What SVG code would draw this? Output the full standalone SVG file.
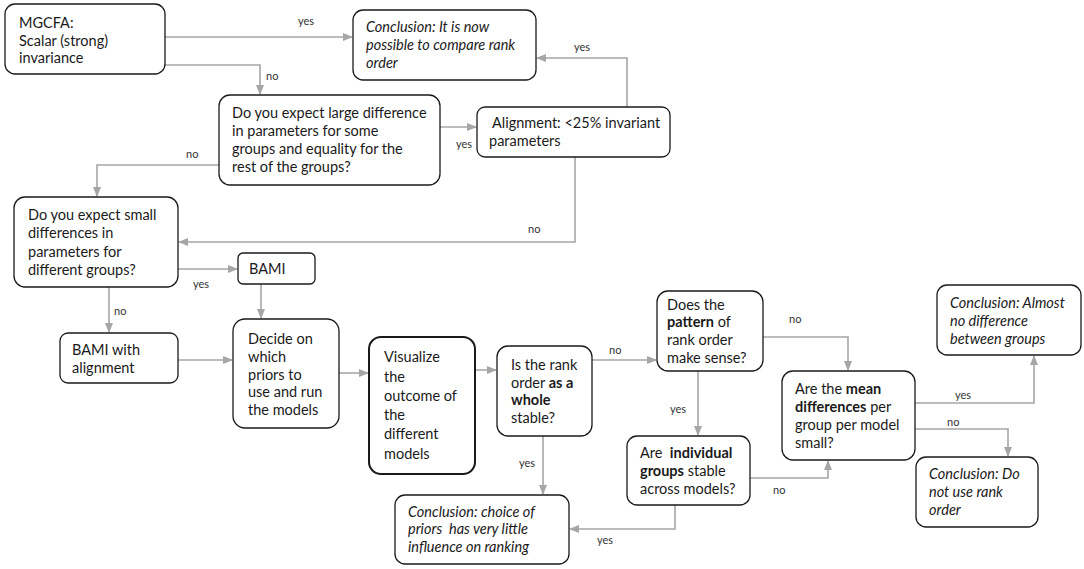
<svg xmlns="http://www.w3.org/2000/svg" width="1084" height="569" viewBox="0 0 1084 569">
<style>
.n{fill:#fff;stroke:#1a1a1a;stroke-width:1.3}
.t{font-family:Lato,"Liberation Sans",sans-serif;font-size:14.5px;fill:#1a1a1a}
.i{font-style:italic}
.b{font-weight:bold}
.c{fill:none;stroke:#a6a6a6;stroke-width:1.6}
.l{font-family:Lato,"Liberation Sans",sans-serif;font-size:11px;fill:#333}
</style>
<defs>
<marker id="a" markerWidth="10" markerHeight="8" refX="9" refY="4" orient="auto" markerUnits="userSpaceOnUse">
<path d="M0,0 L10,4 L0,8 z" fill="#a6a6a6"/>
</marker>
</defs>
<rect width="1084" height="569" fill="#fff"/>
<g id="connectors">
<path class="c" d="M165,37 H352" marker-end="url(#a)"/>
<path class="c" d="M165,65 H260 V94" marker-end="url(#a)"/>
<path class="c" d="M440,127 H476" marker-end="url(#a)"/>
<path class="c" d="M627,107 V58 H537" marker-end="url(#a)"/>
<path class="c" d="M575,157 V242 H179" marker-end="url(#a)"/>
<path class="c" d="M220,165 H97 V196" marker-end="url(#a)"/>
<path class="c" d="M178,269 H237" marker-end="url(#a)"/>
<path class="c" d="M261,284 V318" marker-end="url(#a)"/>
<path class="c" d="M109,287 V332" marker-end="url(#a)"/>
<path class="c" d="M178,360 H232" marker-end="url(#a)"/>
<path class="c" d="M339,373 H368" marker-end="url(#a)"/>
<path class="c" d="M475,370 H496" marker-end="url(#a)"/>
<path class="c" d="M592,360 H656" marker-end="url(#a)"/>
<path class="c" d="M543,436 V494" marker-end="url(#a)"/>
<path class="c" d="M763,337 H848 V370" marker-end="url(#a)"/>
<path class="c" d="M698,371 V435" marker-end="url(#a)"/>
<path class="c" d="M750,478 H828 V461" marker-end="url(#a)"/>
<path class="c" d="M675,505 V529 H570" marker-end="url(#a)"/>
<path class="c" d="M915,403 H1034 V356" marker-end="url(#a)"/>
<path class="c" d="M915,429 H1008 V456" marker-end="url(#a)"/>
<text class="l" x="298" y="25">yes</text>
<text class="l" x="266" y="80">no</text>
<text class="l" x="456" y="148">yes</text>
<text class="l" x="574" y="51">yes</text>
<text class="l" x="528" y="233">no</text>
<text class="l" x="186" y="158">no</text>
<text class="l" x="193" y="288">yes</text>
<text class="l" x="114" y="315">no</text>
<text class="l" x="609" y="354">no</text>
<text class="l" x="519" y="467">yes</text>
<text class="l" x="789" y="323">no</text>
<text class="l" x="670" y="413">yes</text>
<text class="l" x="773" y="494">no</text>
<text class="l" x="597" y="544">yes</text>
<text class="l" x="955" y="399">yes</text>
<text class="l" x="947" y="426">no</text>
</g>
<g id="mgcfa">
<rect class="n" x="5" y="4" width="160" height="70" rx="10"/>
<text class="t" x="19" y="28">MGCFA:</text>
<text class="t" x="19" y="46">Scalar (strong)</text>
<text class="t" x="19" y="63">invariance</text>
</g>
<g id="concl-compare">
<rect class="n" x="353" y="10" width="183" height="70" rx="10"/>
<text class="t i" x="366" y="32">Conclusion: It is now</text>
<text class="t i" x="366" y="50">possible to compare rank</text>
<text class="t i" x="366" y="68">order</text>
</g>
<g id="q-large">
<rect class="n" x="219" y="95" width="221" height="90" rx="11"/>
<text class="t" x="232" y="118">Do you expect large difference</text>
<text class="t" x="232" y="136">in parameters for some</text>
<text class="t" x="232" y="154">groups and equality for the</text>
<text class="t" x="232" y="172">rest of the groups?</text>
</g>
<g id="alignment">
<rect class="n" x="477" y="107" width="193" height="50" rx="8"/>
<text class="t" x="492" y="128">Alignment: &lt;25% invariant</text>
<text class="t" x="489" y="146">parameters</text>
</g>
<g id="q-small">
<rect class="n" x="14" y="197" width="164" height="90" rx="11"/>
<text class="t" x="28" y="220">Do you expect small</text>
<text class="t" x="28" y="238">differences in</text>
<text class="t" x="28" y="257">parameters for</text>
<text class="t" x="28" y="275">different groups?</text>
</g>
<g id="bami">
<rect class="n" x="238" y="253" width="77" height="31" rx="5"/>
<text class="t" x="249" y="274">BAMI</text>
</g>
<g id="bami-align">
<rect class="n" x="60" y="333" width="118" height="50" rx="8"/>
<text class="t" x="72" y="355">BAMI with</text>
<text class="t" x="72" y="373">alignment</text>
</g>
<g id="decide">
<rect class="n" x="233" y="319" width="106" height="109" rx="12"/>
<text class="t" x="248" y="344">Decide on</text>
<text class="t" x="248" y="362">which</text>
<text class="t" x="248" y="380">priors to</text>
<text class="t" x="248" y="397">use and run</text>
<text class="t" x="248" y="415">the models</text>
</g>
<g id="visualize">
<rect class="n" x="369" y="337" width="106" height="137" rx="12" style="stroke-width:2"/>
<text class="t" x="384" y="362">Visualize</text>
<text class="t" x="384" y="382">the</text>
<text class="t" x="384" y="401">outcome of</text>
<text class="t" x="384" y="420">the</text>
<text class="t" x="384" y="439">different</text>
<text class="t" x="384" y="459">models</text>
</g>
<g id="q-whole">
<rect class="n" x="497" y="346" width="95" height="90" rx="11"/>
<text class="t" x="511" y="370">Is the rank</text>
<text class="t" x="511" y="388">order <tspan class="b">as a</tspan></text>
<text class="t b" x="511" y="405">whole</text>
<text class="t" x="511" y="423">stable?</text>
</g>
<g id="concl-priors">
<rect class="n" x="395" y="495" width="174" height="69" rx="10"/>
<text class="t i" x="408" y="517">Conclusion: choice of</text>
<text class="t i" x="408" y="534">priors&#160; has very little</text>
<text class="t i" x="408" y="552">influence on ranking</text>
</g>
<g id="q-pattern">
<rect class="n" x="657" y="291" width="106" height="80" rx="11"/>
<text class="t" x="667" y="310">Does the</text>
<text class="t" x="667" y="327"><tspan class="b">pattern</tspan> of</text>
<text class="t" x="667" y="345">rank order</text>
<text class="t" x="667" y="363">make sense?</text>
</g>
<g id="q-individual">
<rect class="n" x="627" y="436" width="123" height="69" rx="10"/>
<text class="t" x="640" y="458">Are&#160; <tspan class="b">individual</tspan></text>
<text class="t" x="640" y="476"><tspan class="b">groups</tspan> stable</text>
<text class="t" x="640" y="494">across models?</text>
</g>
<g id="q-mean">
<rect class="n" x="782" y="371" width="133" height="89" rx="11"/>
<text class="t" x="795" y="394">Are the <tspan class="b">mean</tspan></text>
<text class="t" x="795" y="412"><tspan class="b">differences</tspan> per</text>
<text class="t" x="795" y="430">group per model</text>
<text class="t" x="795" y="448">small?</text>
</g>
<g id="concl-almost">
<rect class="n" x="937" y="285" width="144" height="70" rx="10"/>
<text class="t i" x="950" y="308">Conclusion: Almost</text>
<text class="t i" x="950" y="326">no difference</text>
<text class="t i" x="950" y="344">between groups</text>
</g>
<g id="concl-donot">
<rect class="n" x="916" y="457" width="122" height="70" rx="10"/>
<text class="t i" x="929" y="479">Conclusion: Do</text>
<text class="t i" x="929" y="497">not use rank</text>
<text class="t i" x="929" y="515">order</text>
</g>
</svg>
